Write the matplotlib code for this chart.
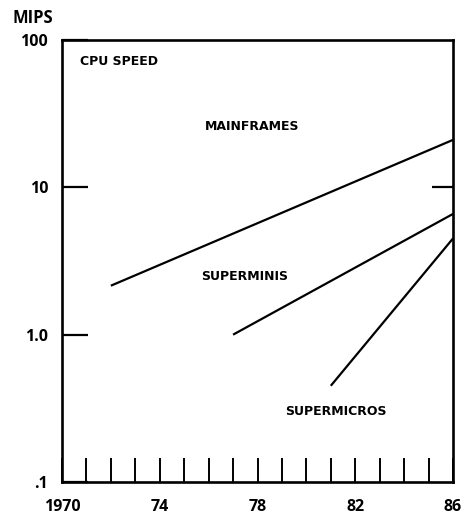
import matplotlib
matplotlib.use("Agg")
import matplotlib.pyplot as plt
from matplotlib.ticker import FixedLocator, NullFormatter

plt.rcParams['font.family'] = ['Open Sans', 'DejaVu Sans']
plt.rcParams['font.weight'] = 'bold'

# Data (year, MIPS)
mainframe_years = [1972, 1986]
mainframe_mips = [2.15, 21.0]
supermini_years = [1977, 1986]
supermini_mips = [1.0, 6.6]
supermicro_years = [1981, 1986]
supermicro_mips = [0.45, 4.5]

ytick_vals = [0.1, 1, 10, 100]
ytick_labels = ['.1', '1.0', '10', '100']
xtick_major = [1970, 1974, 1978, 1982, 1986]
xtick_labels = ['1970', '74', '78', '82', '86']
xtick_minor = list(range(1971, 1986))

fig = plt.figure(figsize=(4.74, 5.19), dpi=100)
ax = fig.add_axes([0.1308, 0.0713, 0.8249, 0.8516])

lw = 1.6
for xs, ys in [(mainframe_years, mainframe_mips),
               (supermini_years, supermini_mips),
               (supermicro_years, supermicro_mips)]:
    ax.plot(xs, ys, color='black', lw=lw, solid_capstyle='butt')

ax.set_yscale('log')
ax.set_ylim(0.1, 100)
ax.set_xlim(1970, 1986)

for s in ax.spines.values():
    s.set_linewidth(1.9)

ax.yaxis.set_major_locator(FixedLocator(ytick_vals))
ax.yaxis.set_minor_locator(FixedLocator([]))
ax.set_yticklabels(ytick_labels)
ax.tick_params(axis='y', which='major', direction='in', length=19, width=1.6,
               pad=10, labelsize=11.5)

ax.xaxis.set_major_locator(FixedLocator(xtick_major))
ax.xaxis.set_minor_locator(FixedLocator(xtick_minor))
ax.xaxis.set_minor_formatter(NullFormatter())
ax.set_xticklabels(xtick_labels)
ax.tick_params(axis='x', which='both', direction='in', length=17, width=1.4,
               pad=12, labelsize=11.5)

# right side tick at 10
ax2 = ax.twinx()
ax2.set_yscale('log')
ax2.set_ylim(0.1, 100)
ax2.yaxis.set_major_locator(FixedLocator([10]))
ax2.yaxis.set_minor_locator(FixedLocator([]))
ax2.yaxis.set_major_formatter(NullFormatter())
ax2.tick_params(axis='y', direction='in', length=15, width=1.6)
for s in ax2.spines.values():
    s.set_visible(False)

lbl = dict(fontsize=9, fontweight='bold', va='center', ha='left',
           family=['DejaVu Sans'])
fig.text(12/474, 1 - 18/519, 'MIPS', fontsize=12, fontweight='bold', va='center', ha='left')
ax.text(1970.75, 71, 'CPU SPEED', **lbl)
ax.text(1975.85, 25.7, 'MAINFRAMES', **lbl)
ax.text(1975.7, 2.5, 'SUPERMINIS', **lbl)
ax.text(1979.15, 0.30, 'SUPERMICROS', **lbl)

fig.savefig('out.png', dpi=100)
